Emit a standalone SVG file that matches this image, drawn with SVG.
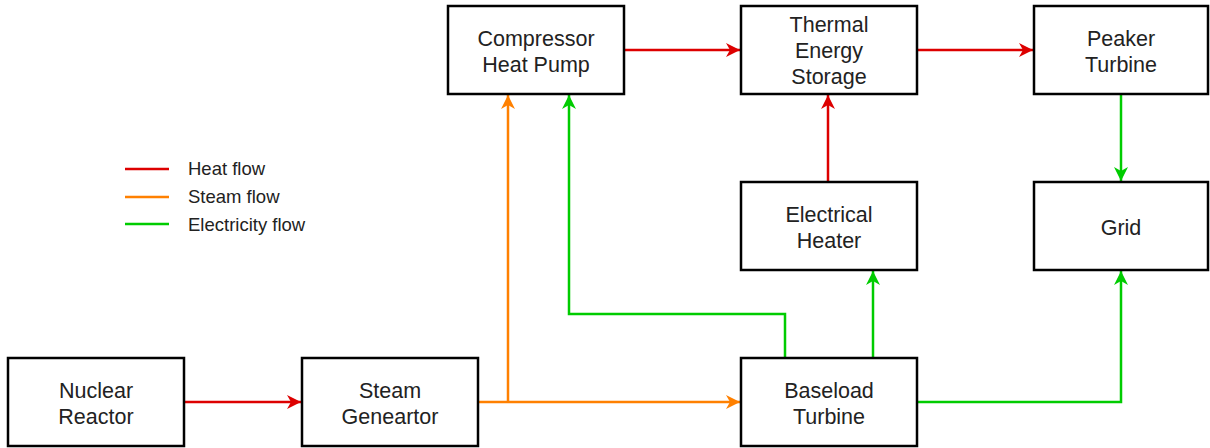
<svg xmlns="http://www.w3.org/2000/svg" width="1210" height="448" viewBox="0 0 1210 448">
<style>
.box{fill:#fff;stroke:#000;stroke-width:2.5}
.t{font-family:"Liberation Sans",Arial,sans-serif;font-size:21.5px;fill:#222;text-anchor:middle}
.lg{font-family:"Liberation Sans",Arial,sans-serif;font-size:18.5px;fill:#222}
.c{fill:none;stroke-width:2.5}
.red{stroke:#dd0000}
.org{stroke:#ff8000}
.grn{stroke:#00cc00}
</style>
<defs>
<marker id="ar" markerUnits="userSpaceOnUse" markerWidth="16" markerHeight="16" viewBox="0 0 16 16" refX="15" refY="8" orient="auto"><path d="M1,1 L15,8 L1,15 L5,8 Z" fill="#dd0000"/></marker>
<marker id="ao" markerUnits="userSpaceOnUse" markerWidth="16" markerHeight="16" viewBox="0 0 16 16" refX="15" refY="8" orient="auto"><path d="M1,1 L15,8 L1,15 L5,8 Z" fill="#ff8000"/></marker>
<marker id="ag" markerUnits="userSpaceOnUse" markerWidth="16" markerHeight="16" viewBox="0 0 16 16" refX="15" refY="8" orient="auto"><path d="M1,1 L15,8 L1,15 L5,8 Z" fill="#00cc00"/></marker>
</defs>
<g id="legend">
<line x1="125" y1="169" x2="169" y2="169" class="c red"/>
<line x1="125" y1="197" x2="169" y2="197" class="c org"/>
<line x1="125" y1="224" x2="169" y2="224" class="c grn"/>
<text x="188" y="175" class="lg">Heat flow</text>
<text x="188" y="203" class="lg">Steam flow</text>
<text x="188" y="231" class="lg">Electricity flow</text>
</g>
<g id="connectors">
<path d="M184,402 H301" class="c red" marker-end="url(#ar)"/>
<path d="M478,402 H740" class="c org" marker-end="url(#ao)"/>
<path d="M508,402 V95" class="c org" marker-end="url(#ao)"/>
<path d="M785,358 V314 H569 V95" class="c grn" marker-end="url(#ag)"/>
<path d="M873,358 V271" class="c grn" marker-end="url(#ag)"/>
<path d="M828,182 V95" class="c red" marker-end="url(#ar)"/>
<path d="M624,50 H740" class="c red" marker-end="url(#ar)"/>
<path d="M917,50 H1033" class="c red" marker-end="url(#ar)"/>
<path d="M1121,94 V181" class="c grn" marker-end="url(#ag)"/>
<path d="M917,402 H1121 V271" class="c grn" marker-end="url(#ag)"/>
</g>
<g id="nuclear-reactor"><rect class="box" x="8" y="358" width="176" height="88"/><text class="t" x="96" y="398">Nuclear</text><text class="t" x="96" y="424">Reactor</text></g>
<g id="steam-generator"><rect class="box" x="302" y="358" width="176" height="88"/><text class="t" x="390" y="398">Steam</text><text class="t" x="390" y="424">Geneartor</text></g>
<g id="compressor-heat-pump"><rect class="box" x="448" y="6" width="176" height="88"/><text class="t" x="536" y="46">Compressor</text><text class="t" x="536" y="72">Heat Pump</text></g>
<g id="thermal-energy-storage"><rect class="box" x="741" y="6" width="176" height="88"/><text class="t" x="829" y="32">Thermal</text><text class="t" x="829" y="58">Energy</text><text class="t" x="829" y="84">Storage</text></g>
<g id="peaker-turbine"><rect class="box" x="1034" y="6" width="174" height="88"/><text class="t" x="1121" y="46">Peaker</text><text class="t" x="1121" y="72">Turbine</text></g>
<g id="electrical-heater"><rect class="box" x="741" y="182" width="176" height="88"/><text class="t" x="829" y="222">Electrical</text><text class="t" x="829" y="248">Heater</text></g>
<g id="grid"><rect class="box" x="1034" y="182" width="174" height="88"/><text class="t" x="1121" y="235">Grid</text></g>
<g id="baseload-turbine"><rect class="box" x="741" y="358" width="176" height="88"/><text class="t" x="829" y="398">Baseload</text><text class="t" x="829" y="424">Turbine</text></g>
</svg>
